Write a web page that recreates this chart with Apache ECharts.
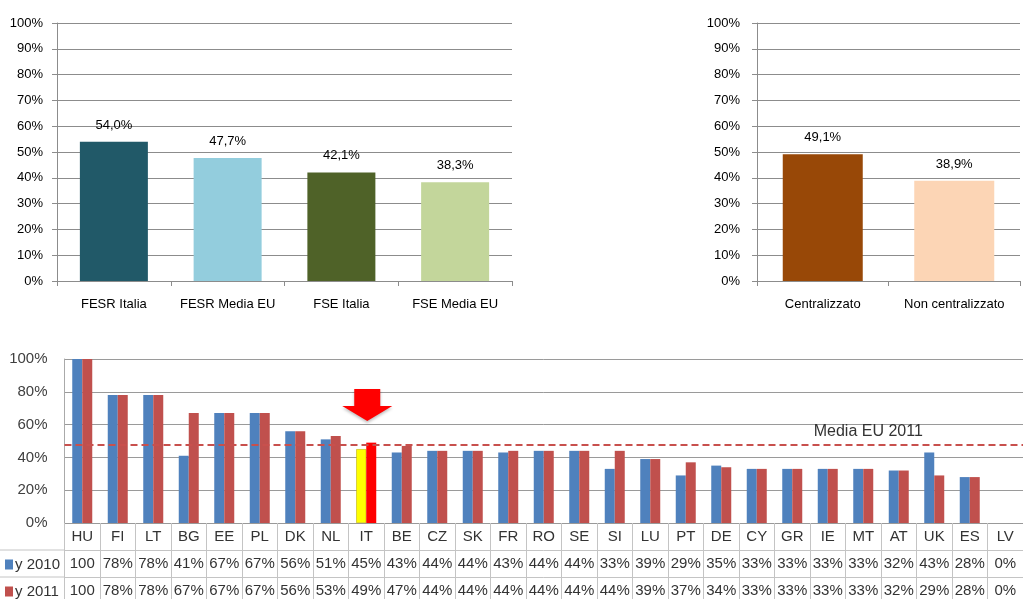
<!DOCTYPE html>
<html>
<head>
<meta charset="utf-8">
<script src="https://cdn.jsdelivr.net/npm/echarts@6/dist/echarts.min.js"></script>
<style>
html,body{margin:0;padding:0;background:#fff;}
#chart{width:1023px;height:599px;}
</style>
</head>
<body>
<div id="chart"></div>
<script>
// ---- data ----
const fundCategories = ['FESR Italia', 'FESR Media EU', 'FSE Italia', 'FSE Media EU'];
const fundValues = [54.0, 47.7, 42.1, 38.3];
const mgmtCategories = ['Centralizzato', 'Non centralizzato'];
const mgmtValues = [49.1, 38.9];
const countries = ['HU','FI','LT','BG','EE','PL','DK','NL','IT','BE','CZ','SK','FR','RO','SE','SI','LU','PT','DE','CY','GR','IE','MT','AT','UK','ES','LV'];
const y2010 = [100,78,78,41,67,67,56,51,45,43,44,44,43,44,44,33,39,29,35,33,33,33,33,32,43,28,0];
const y2011 = [100,78,78,67,67,67,56,53,49,47,44,44,44,44,44,44,39,37,34,33,33,33,33,32,29,28,0];
const mediaEU2011 = 47.6;
const highlightCountry = 'IT';
const topTicks = [0,10,20,30,40,50,60,70,80,90,100];
const bottomTicks = [0,20,40,60,80,100];

// ---- styles ----
const fundColors = ['#215968', '#93CDDD', '#4F6228', '#C3D69B'];
const mgmtColors = ['#984807', '#FCD5B5'];
const narrow = '"Liberation Sans Narrow", "Liberation Sans", Arial, sans-serif';
const regular = '"Liberation Sans", Arial, sans-serif';
const gridGray = '#8C8C8C';
const tableGray = '#C4C4C4';
const topFont = 13;

const fmtComma = v => v.toFixed(1).replace('.', ',') + '%';
const fmtRow = v => (v === 100 ? '100' : v + '%');

const topYAxis = (grid, margin) => ({
  type: 'value', gridIndex: grid, min: topTicks[0], max: topTicks[topTicks.length-1], interval: 10,
  axisLine: {show: true, lineStyle: {color: gridGray}},
  axisTick: {show: true, length: 5, lineStyle: {color: gridGray}},
  splitLine: {show: true, lineStyle: {color: gridGray}},
  axisLabel: {formatter: '{value}%', margin: margin, fontFamily: narrow, fontSize: topFont, color: '#000'}
});
const topXAxis = (grid, data) => ({
  type: 'category', gridIndex: grid, data: data,
  axisLine: {show: true, lineStyle: {color: gridGray}},
  axisTick: {show: true, length: 5, lineStyle: {color: gridGray}},
  axisLabel: {margin: 17, fontFamily: narrow, fontSize: topFont, color: '#000', interval: 0}
});
const rowAxis = (offset, values) => ({
  type: 'category', gridIndex: 2, data: countries, position: 'bottom', offset: offset,
  axisLine: {show: true, lineStyle: {color: tableGray}},
  axisTick: {show: true, length: 27, interval: 0, lineStyle: {color: tableGray}},
  axisLabel: {margin: 6, interval: 0, fontFamily: regular, fontSize: 15, color: '#333',
    formatter: (v, i) => fmtRow(values[i])}
});

const chart = echarts.init(document.getElementById('chart'), null, {renderer: 'canvas'});
chart.setOption({
  animation: false,
  backgroundColor: '#fff',
  grid: [
    {left: 57, top: 23, width: 455, height: 258},
    {left: 757, top: 23, width: 263, height: 258},
    {left: 64.5, top: 359, width: 973.4, height: 164}
  ],
  xAxis: [
    topXAxis(0, fundCategories),
    topXAxis(1, mgmtCategories),
    {
      type: 'category', gridIndex: 2, data: countries,
      axisLine: {show: true, lineStyle: {color: '#999'}},
      axisTick: {show: true, length: 27, interval: 0, lineStyle: {color: tableGray}},
      axisLabel: {margin: 6, interval: 0, fontFamily: regular, fontSize: 15, color: '#333'}
    },
    rowAxis(27, y2010),
    rowAxis(54, y2011)
  ],
  yAxis: [
    topYAxis(0, 14),
    topYAxis(1, 17),
    {
      type: 'value', gridIndex: 2, min: bottomTicks[0], max: bottomTicks[bottomTicks.length-1], interval: 20,
      axisLine: {show: true, lineStyle: {color: '#AAA'}},
      axisTick: {show: false},
      splitLine: {show: true, lineStyle: {color: '#9A9A9A'}},
      axisLabel: {formatter: '{value}%', margin: 17, fontFamily: regular, fontSize: 15, color: '#404040'}
    }
  ],
  legend: [
    {data: ['y 2010'], left: 0, top: 552, icon: 'rect', itemWidth: 8, itemHeight: 10, itemGap: 2,
     selectedMode: false, textStyle: {fontFamily: regular, fontSize: 15, color: '#333', padding: [0,0,0,-3]}},
    {data: ['y 2011'], left: 0, top: 579, icon: 'rect', itemWidth: 8, itemHeight: 10, itemGap: 2,
     selectedMode: false, textStyle: {fontFamily: regular, fontSize: 15, color: '#333', padding: [0,0,0,-3]}}
  ],
  graphic: [
    {type: 'line', shape: {x1: 0, y1: 550, x2: 65, y2: 550}, style: {stroke: tableGray, lineWidth: 1}, silent: true},
    {type: 'line', shape: {x1: 0, y1: 577, x2: 65, y2: 577}, style: {stroke: tableGray, lineWidth: 1}, silent: true}
  ],
  series: [
    {
      type: 'bar', xAxisIndex: 0, yAxisIndex: 0, barWidth: 68,
      data: fundValues.map((v, i) => ({value: v, itemStyle: {color: fundColors[i]}})),
      label: {show: true, position: 'top', distance: 10, fontFamily: narrow, fontSize: topFont, color: '#000',
        formatter: p => fmtComma(p.value)}
    },
    {
      type: 'bar', xAxisIndex: 1, yAxisIndex: 1, barWidth: 80,
      data: mgmtValues.map((v, i) => ({value: v, itemStyle: {color: mgmtColors[i]}})),
      label: {show: true, position: 'top', distance: 10, fontFamily: narrow, fontSize: topFont, color: '#000',
        formatter: p => fmtComma(p.value)}
    },
    {
      name: 'y 2010', type: 'bar', xAxisIndex: 2, yAxisIndex: 2, barWidth: 10, barGap: '0%',
      itemStyle: {color: '#4F81BD'},
      data: y2010.map((v, i) => countries[i] === highlightCountry
        ? {value: v, itemStyle: {color: '#FFFF00', borderColor: '#B0A000', borderWidth: 0.5}} : v)
    },
    {
      name: 'y 2011', type: 'bar', xAxisIndex: 2, yAxisIndex: 2, barWidth: 10, barGap: '0%',
      itemStyle: {color: '#C0504D'},
      data: y2011.map((v, i) => countries[i] === highlightCountry
        ? {value: v, itemStyle: {color: '#FF0000'}} : v),
      markLine: {
        silent: true, symbol: 'none', animation: false,
        data: [
          {yAxis: mediaEU2011, lineStyle: {color: '#C8504D', width: 2, type: [7, 4]}, label: {show: false}},
          [
            {coord: ['IE', mediaEU2011], lineStyle: {color: 'rgba(0,0,0,0)', width: 0},
             label: {show: true, position: 'insideMiddleTop', distance: 5, formatter: 'Media EU 2011',
               fontFamily: regular, fontSize: 16, color: '#333'}},
            {coord: ['AT', mediaEU2011]}
          ]
        ]
      },
      markPoint: {
        silent: true, animation: false,
        data: [{coord: [highlightCountry, 72]}],
        symbol: 'path://M2.4,0 L7.6,0 L7.6,5.3 L10,5.3 L5,10 L0,5.3 L2.4,5.3 Z',
        symbolSize: [50, 32], symbolOffset: [-4, 0],
        itemStyle: {color: '#FF0000', shadowColor: 'rgba(0,0,0,0.25)', shadowBlur: 3, shadowOffsetY: 2},
        label: {show: false}
      }
    }
  ]
});
</script>
</body>
</html>
